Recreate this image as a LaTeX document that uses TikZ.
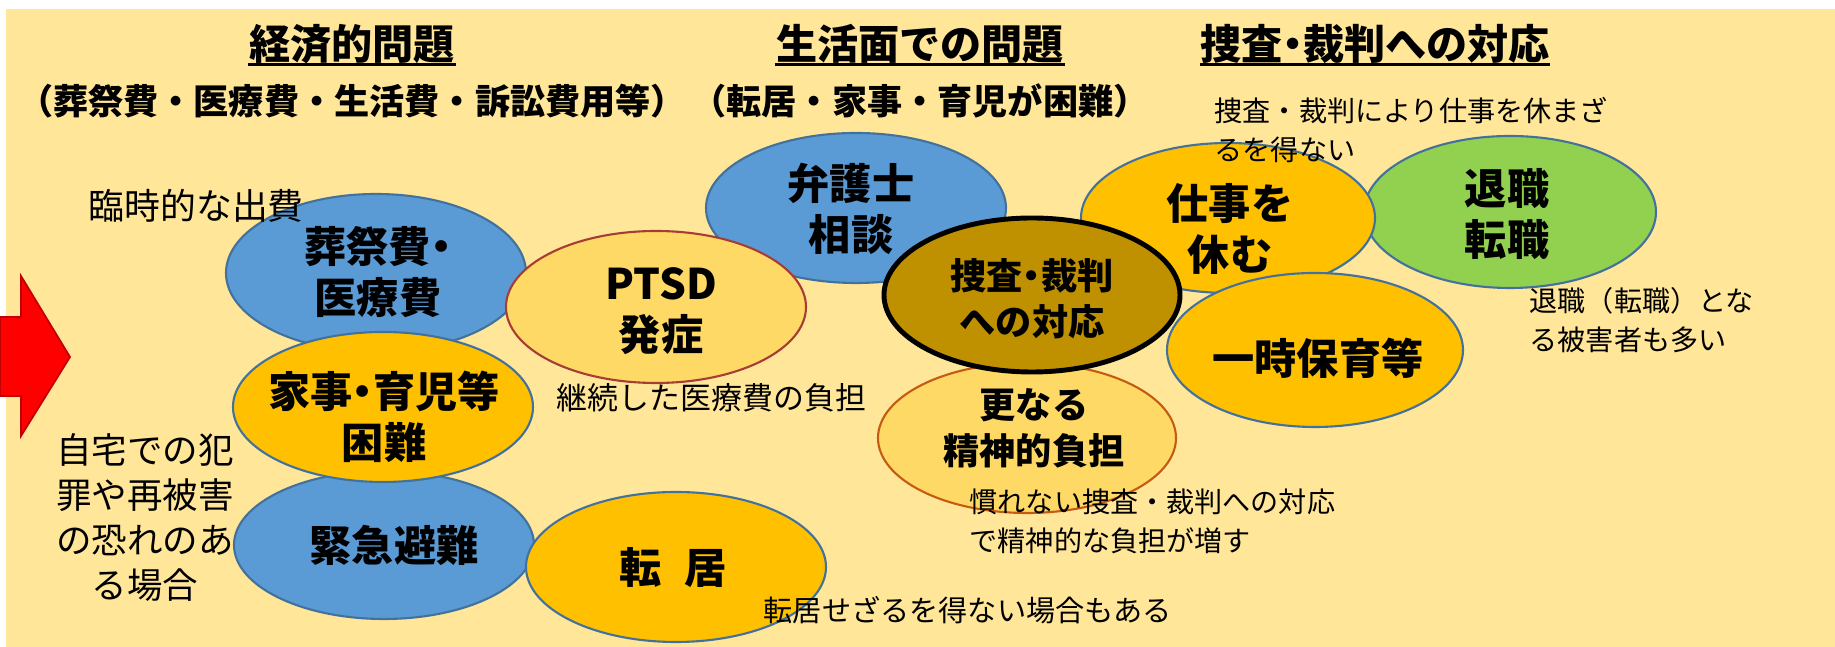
\documentclass[tikz,border=0pt]{standalone}
\usepackage{fontspec}
\setmainfont{Noto Sans CJK JP}
\usetikzlibrary{shapes.geometric}

\definecolor{bgyellow}{HTML}{FFE699}
\definecolor{bluefill}{HTML}{5B9BD5}
\definecolor{blueline}{HTML}{41719C}
\definecolor{orangefill}{HTML}{FFC000}
\definecolor{goldfill}{HTML}{FFD966}
\definecolor{ptsdline}{HTML}{A63D35}
\definecolor{saraniline}{HTML}{C55A11}
\definecolor{sosafill}{HTML}{BF9000}
\definecolor{greenfill}{HTML}{92D050}
\definecolor{arrowline}{HTML}{C00000}

% narrow middle dot
\newcommand{\nakaten}{\kern-0.25em・\kern-0.25em}

\tikzset{
  bubble/.style={ellipse, draw=blueline, line width=0.6pt, inner sep=0pt,
    minimum width=3cm, minimum height=1.5cm},
  bubtext/.style={align=center, inner sep=0pt,
    font=\bfseries\fontsize{12}{14.5}\selectfont},
  midtext/.style={align=center, inner sep=0pt,
    font=\bfseries\fontsize{10.3}{13}\selectfont},
  heading/.style={inner sep=0pt, font=\bfseries\fontsize{11.7}{14}\selectfont},
  subheading/.style={inner sep=0pt, font=\bfseries\fontsize{10}{12}\selectfont},
  note/.style={align=left, anchor=west, inner sep=0pt,
    font=\fontsize{8}{11.1}\selectfont},
}

\begin{document}
\begin{tikzpicture}
\useasboundingbox (0,0) rectangle (18.35,6.47);
%\draw[step=1cm,gray,very thin] (0,0) grid (18,6); %background grid
\fill[bgyellow] (0.06,0) rectangle (18.35,6.38);

% red arrow on the left edge
\draw[fill=red,draw=arrowline,line width=0.5pt] (0,3.30) -- (0.21,3.30) -- (0.21,3.71) -- (0.70,2.90)
  -- (0.21,2.11) -- (0.21,2.51) -- (0,2.51) -- cycle;

% headings
\node[heading] (keizai) at (3.52,6.03) {経済的問題};
\node[heading] (seikatsu) at (9.20,6.03) {生活面での問題};
\node[heading] (taiou) at (13.75,6.03) {捜査\nakaten 裁判への対応};
\draw[line width=0.8pt] (keizai.south west) -- (keizai.south east);
\draw[line width=0.8pt] (seikatsu.south west) -- (seikatsu.south east);
\draw[line width=0.8pt] (taiou.south west) -- (taiou.south east);
\node[subheading] (keizaisub) at (3.52,5.46) {（葬祭費・医療費・生活費・訴訟費用等）};
\node[subheading] (seikatsusub) at (9.20,5.46) {（転居・家事・育児が困難）};

% bubbles
\node[bubble,fill=bluefill,minimum height=1.58cm] (sosai) at (3.76,3.74) {};
\node[bubtext] (sosaiT) at (3.78,3.75) {葬祭費\nakaten\\医療費};
\node[bubble,fill=bluefill,minimum height=1.48cm] (kinkyu) at (3.84,1.02) {};
\node[bubtext] (kinkyuT) at (3.94,1.02) {緊急避難};
\node[bubble,fill=orangefill] (kaji) at (3.83,2.40) {};
\node[bubtext] (kajiT) at (3.84,2.30) {家事\nakaten 育児等\\困難};
\node[bubble,fill=orangefill] (tenkyo) at (6.76,0.80) {};
\node[bubtext] (tenkyoT) at (6.73,0.79) {転　\kern-0.45em居};
\node[bubble,fill=bluefill] (bengoshi) at (8.56,4.39) {};
\node[bubtext] (bengoshiT) at (8.51,4.38) {弁護士\\相談};
\node[bubble,fill=goldfill,draw=ptsdline,minimum height=1.52cm] (ptsd) at (6.56,3.40) {};
\node[bubtext] (ptsdT) at (6.61,3.36) {PTSD\\発症};
\node[bubble,fill=greenfill,minimum width=2.92cm,minimum height=1.52cm] (taishoku) at (15.10,4.35) {};
\node[bubtext] (taishokuT) at (15.07,4.33) {退職\\転職};
\node[bubble,fill=orangefill,minimum width=2.94cm] (shigoto) at (12.28,4.29) {};
\node[bubtext] (shigotoT) at (12.30,4.18) {仕事を\\休む};
\node[bubble,fill=orangefill,minimum width=2.96cm,minimum height=1.54cm] (ichiji) at (13.15,2.97) {};
\node[bubtext] (ichijiT) at (13.18,2.89) {一時保育等};
\node[bubble,fill=goldfill,draw=saraniline,minimum width=2.98cm] (sarani) at (10.27,2.09) {};
\node[midtext] (saraniT) at (10.34,2.19) {更なる\\精神的負担};
\node[bubble,fill=sosafill,draw=black,line width=1.4pt,minimum width=2.96cm,minimum height=1.54cm] (sosa) at (10.32,3.52) {};
\node[midtext] (sosaT) at (10.32,3.48) {捜査\nakaten 裁判\\への対応};

% notes
\node[note,font=\fontsize{10.2}{12}\selectfont] (rinji) at (0.88,4.41) {臨時的な出費};
\node[note] (yasumu) at (12.14,5.165) {捜査・裁判により仕事を休まざ\\るを得ない};
\node[note] (tenshoku) at (15.29,3.27) {退職（転職）とな\\る被害者も多い};
\node[note,font=\fontsize{8.8}{11}\selectfont] (keizoku) at (5.56,2.49) {継続した医療費の負担};
\node[note,anchor=center,align=center,font=\fontsize{10.1}{12.8}\selectfont] (jitaku) at (1.45,1.295)
  {自宅での犯\\罪や再被害\\の恐れのあ\\る場合};
\node[note] (narenai) at (9.69,1.255) {慣れない捜査・裁判への対応\\で精神的な負担が増す};
\node[note,font=\fontsize{8.3}{11}\selectfont] (tenkyoN) at (7.63,0.37) {転居せざるを得ない場合もある};

\end{tikzpicture}
\end{document}
